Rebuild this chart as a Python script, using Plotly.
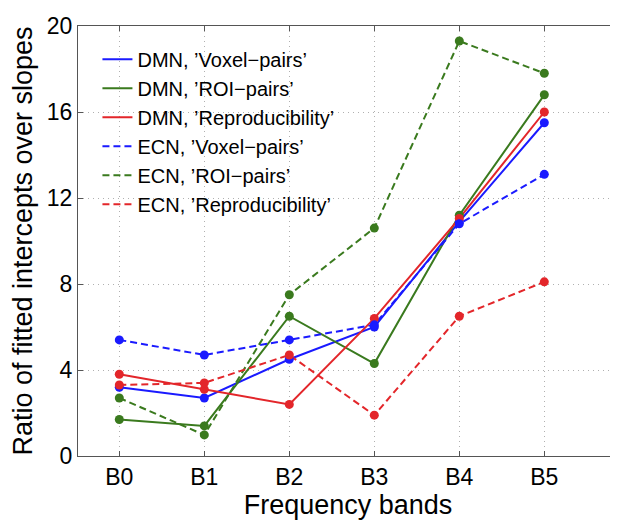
import plotly.graph_objects as go

bands = ["B0", "B1", "B2", "B3", "B4", "B5"]
dmn_voxel = [3.2, 2.7, 4.5, 6.0, 10.9, 15.5]
dmn_roi = [1.7, 1.4, 6.5, 4.3, 11.2, 16.8]
dmn_repro = [3.8, 3.1, 2.4, 6.4, 11.05, 16.0]
ecn_voxel = [5.4, 4.7, 5.4, 6.1, 10.8, 13.1]
ecn_roi = [2.7, 0.98, 7.5, 10.6, 19.3, 17.8]
ecn_repro = [3.3, 3.4, 4.7, 1.9, 6.5, 8.1]
y_ticks = [0, 4, 8, 12, 16, 20]

BLUE = "#1a1aff"
GREEN = "#3a7a1e"
RED = "#e3262a"

series = [
    ("DMN, \u2019Voxel\u2212pairs\u2019", dmn_voxel, BLUE, "solid"),
    ("DMN, \u2019ROI\u2212pairs\u2019", dmn_roi, GREEN, "solid"),
    ("DMN, \u2019Reproducibility\u2019", dmn_repro, RED, "solid"),
    ("ECN, \u2019Voxel\u2212pairs\u2019", ecn_voxel, BLUE, "7px,4px"),
    ("ECN, \u2019ROI\u2212pairs\u2019", ecn_roi, GREEN, "7px,4px"),
    ("ECN, \u2019Reproducibility\u2019", ecn_repro, RED, "7px,4px"),
]

xs = list(range(len(bands)))
fig = go.Figure()
for name, vals, col, dash in series:
    fig.add_trace(go.Scatter(
        x=xs, y=vals, name=name, mode="lines",
        line=dict(color=col, width=2, dash=dash),
        legendgroup=name,
    ))
for name, vals, col, dash in series:
    fig.add_trace(go.Scatter(
        x=xs, y=vals, name=name, mode="markers", showlegend=False,
        marker=dict(color=col, size=9), legendgroup=name,
    ))

font = "Liberation Sans, Arial, Helvetica, sans-serif"
fig.update_layout(
    width=610, height=513,
    margin=dict(l=70, r=0, t=18, b=65),
    paper_bgcolor="white", plot_bgcolor="white",
    font=dict(family=font, color="black"),
    showlegend=True,
    legend=dict(x=0.036, y=0.968, xanchor="left", yanchor="top",
                bgcolor="rgba(0,0,0,0)", font=dict(size=20, family=font),
                itemwidth=30, tracegroupgap=0),
    xaxis=dict(
        range=[-0.486, 5.867], tickmode="array", tickvals=xs, ticktext=bands,
        showline=True, linecolor="#555", linewidth=1.2, mirror="ticks",
        ticks="inside", ticklen=5, tickcolor="#555",
        showgrid=True, gridcolor="#b0b0b0", griddash="1px,4px", gridwidth=1,
        zeroline=False, tickfont=dict(size=23), automargin=False,
        title=dict(text="Frequency bands", font=dict(size=27), standoff=6),
    ),
    yaxis=dict(
        range=[0, 20], tickvals=y_ticks,
        showline=True, linecolor="#555", linewidth=1.2, mirror=False,
        ticks="inside", ticklen=5, tickcolor="#555",
        showgrid=True, gridcolor="#b0b0b0", griddash="1px,4px", gridwidth=1,
        zeroline=False, tickfont=dict(size=23), automargin=False,
        title=dict(text="Ratio of fitted intercepts over slopes", font=dict(size=27), standoff=12),
    ),
)
fig.write_html("out.html")
